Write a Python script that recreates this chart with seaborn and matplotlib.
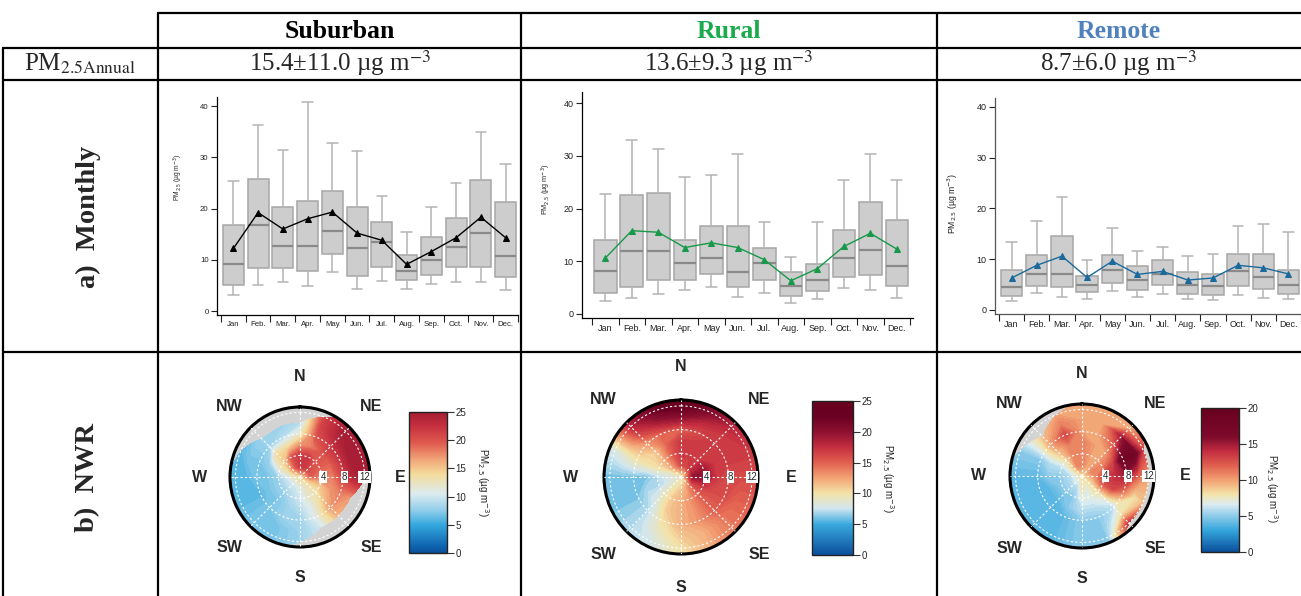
import numpy as np
import pandas as pd
import matplotlib
matplotlib.use("Agg")
import matplotlib.pyplot as plt
import seaborn as sns
from matplotlib.colors import LinearSegmentedColormap, Normalize
from matplotlib.cm import ScalarMappable
from matplotlib.lines import Line2D

# ---------------- data ----------------
months = ["Jan", "Feb.", "Mar.", "Apr.", "May", "Jun.", "Jul.", "Aug.", "Sep.", "Oct.", "Nov.", "Dec."]
sites = ["Suburban", "Rural", "Remote"]
annual_text = ["15.4\u00b111.0 \u00b5g m$^{-3}$", "13.6\u00b19.3 \u00b5g m$^{-3}$", "8.7\u00b16.0 \u00b5g m$^{-3}$"]

sub_low = [3.1, 5.1, 5.7, 4.9, 7.7, 4.2, 5.8, 4.2, 5.2, 5.7, 5.7, 4.1]
sub_q1 = [5.0, 8.4, 8.3, 7.9, 11.1, 6.8, 8.6, 6.0, 7.0, 8.5, 8.6, 6.6]
sub_med = [9.2, 16.8, 12.7, 12.6, 15.6, 12.2, 13.5, 7.9, 10.0, 12.4, 15.3, 10.8]
sub_q3 = [16.8, 25.7, 20.2, 21.5, 23.5, 20.2, 17.4, 11.0, 14.5, 18.2, 25.6, 21.2]
sub_high = [25.4, 36.3, 31.5, 40.7, 32.8, 31.2, 22.5, 15.5, 20.2, 25.0, 34.9, 28.7]
sub_mean = [12.2, 19.2, 16.0, 18.0, 19.3, 15.2, 13.8, 9.1, 11.6, 14.3, 18.3, 14.3]

rur_low = [2.4, 3.0, 3.8, 4.5, 5.2, 3.2, 3.9, 2.1, 2.8, 4.9, 4.5, 3.1]
rur_q1 = [4.0, 5.2, 6.5, 6.5, 7.5, 5.2, 6.5, 3.5, 4.4, 7.0, 7.3, 5.3]
rur_med = [8.1, 11.9, 11.9, 9.7, 10.7, 8.0, 9.7, 5.4, 6.4, 10.7, 12.1, 9.1]
rur_q3 = [14.0, 22.6, 23.0, 14.1, 16.6, 16.6, 12.6, 8.0, 9.5, 16.0, 21.3, 17.8]
rur_high = [22.7, 33.0, 31.2, 26.0, 26.3, 30.3, 17.4, 10.9, 17.4, 25.4, 30.3, 25.4]
rur_mean = [10.6, 15.8, 15.5, 12.6, 13.5, 12.6, 10.3, 6.3, 8.6, 12.8, 15.3, 12.3]

rem_low = [1.7, 3.3, 2.6, 2.2, 3.7, 2.6, 3.1, 2.2, 1.9, 3.0, 2.4, 2.2]
rem_q1 = [2.8, 4.7, 4.6, 3.5, 5.3, 4.0, 4.9, 3.2, 3.0, 4.8, 4.1, 3.1]
rem_med = [4.6, 7.1, 7.1, 5.0, 7.8, 5.9, 7.1, 5.0, 4.7, 7.7, 6.4, 5.0]
rem_q3 = [7.8, 10.8, 14.5, 6.6, 10.8, 8.7, 9.8, 7.4, 7.0, 11.1, 11.1, 7.8]
rem_high = [13.3, 17.6, 22.2, 9.8, 16.1, 11.7, 12.5, 10.6, 11.0, 16.5, 17.0, 15.4]
rem_mean = [6.3, 8.8, 10.6, 6.4, 9.6, 7.0, 7.6, 5.9, 6.3, 8.8, 8.3, 7.1]

# wind-direction x wind-speed grids (rows: N, NNE, ..., NNW ; cols: speed 0,2,...,14)
wind_dirs = [0, 22.5, 45, 67.5, 90, 112.5, 135, 157.5, 180, 202.5, 225, 247.5, 270, 292.5, 315, 337.5]
wind_speeds = [0, 2, 4, 6, 8, 10, 12, 14]
nan = np.nan
sub_nwr = [
    [14, 22, 22, 17, 12, 9, nan, nan],
    [14, 22, 22, 18, 20, 21, 21, nan],
    [14, 21, 20, 20, 22, 24, 25, 25],
    [14, 20, 19, 19, 22, 25, 25, 25],
    [14, 19, 18, 18, 21, 24, 25, 25],
    [14, 15, 15, 17, 18, 17, nan, nan],
    [14, 13, 13, 15, 17, 16, nan, nan],
    [14, 12, 12, 11, 11, 10, nan, nan],
    [14, 11, 10, 9, 8, 8, 8, nan],
    [14, 10, 9, 8, 8, 7, 7, 7],
    [14, 10, 8, 7, 7, 7, 7, 7],
    [14, 10, 8, 7, 6, 6, 6, 6],
    [14, 11, 8, 7, 7, 6, 6, 6],
    [14, 13, 12, 8, 7, 7, 6, nan],
    [14, 17, 15, 14, 8, 8, nan, nan],
    [14, 20, 20, 14, 9, 8, nan, nan],
]
rur_nwr = [
    [9, 16, 17, 17, 15, 20, 23, 24],
    [9, 16, 17, 17, 16, 18, 21, 22],
    [9, 17, 17, 17, 17, 17, 18, 18],
    [9, 18, 19, 17, 17, 17, 17, 17],
    [9, 20, 20, 17, 16, 16, 16, 16],
    [9, 17, 17, 16, 16, 15, 15, 15],
    [9, 14, 15, 15, 15, 14, 14, 14],
    [9, 12, 13, 13, 13, 12, 12, 12],
    [9, 11, 12, 12, 12, 11, 10, 10],
    [9, 10, 11, 11, 10, 9, 8, 8],
    [9, 9, 9, 8, 7, 7, 7, 7],
    [9, 8, 7, 7, 6, 6, 6, 6],
    [9, 8, 7, 6, 6, 6, 6, 6],
    [9, 9, 10, 10, 10, 9, 8, 8],
    [9, 12, 12, 11, 13, 16, 18, 18],
    [9, 14, 15, 15, 15, 19, 22, 23],
]
rem_nwr = [
    [8, 11, 11, 11, 10, 10, 10, 10],
    [8, 10, 10, 10, 10, 10, 10, 10],
    [8, 10, 10, 10, 12, 15, 10, 10],
    [8, 11, 11, 13, 18, 18, 13, nan],
    [8, 10, 13, 14, 15, 12, 10, nan],
    [8, 9, 12, 13, 11, 8, 9, nan],
    [8, 8, 8, 7, 6, 8, 14, nan],
    [8, 7, 7, 6, 5, 5, 5, 5],
    [8, 8, 7, 6, 5, 5, 5, 5],
    [8, 6, 5, 5, 4, 4, 4, 4],
    [8, 6, 5, 4, 4, 4, 4, 4],
    [8, 6, 5, 4, 4, 4, 4, 4],
    [8, 6, 5, 5, 4, 4, 4, 4],
    [8, 7, 6, 6, 5, 5, 5, nan],
    [8, 9, 8, 9, 10, 9, nan, nan],
    [8, 11, 11, 11, 13, 11, 10, nan],
]
compass = ["N", "NE", "E", "SE", "S", "SW", "W", "NW"]
compass_deg = [0, 45, 90, 135, 180, 225, 270, 315]
ring_vals = [4, 8, 12]

# ---------------- styling ----------------
W, H = 1301, 596
sns.set_theme(style="white")
plt.rcParams['font.family'] = ['Liberation Sans', 'DejaVu Sans']
SERIF = ['Liberation Serif', 'DejaVu Serif']

fig = plt.figure(figsize=(W / 100, H / 100), dpi=100)
fig.patch.set_facecolor('white')


def rect(x0, y0, x1, y1):
    return [x0 / W, 1 - y1 / H, (x1 - x0) / W, (y1 - y0) / H]


def hline(y, x0, x1, lw=1.6):
    fig.add_artist(Line2D([x0 / W, x1 / W], [1 - y / H, 1 - y / H], transform=fig.transFigure, color='black', lw=lw))


def vline(x, y0, y1, lw=1.6):
    fig.add_artist(Line2D([x / W, x / W], [1 - y0 / H, 1 - y1 / H], transform=fig.transFigure, color='black', lw=lw))


# table
hline(13, 158, 1301)
hline(48, 3, 1301)
hline(80, 3, 1301)
hline(352, 3, 1301)
for xv in [158, 521, 937]:
    vline(xv, 13, 596)
vline(3, 48, 596)

head_x = [340, 729, 1119]
head_col = ['black', '#1aab4d', '#4f81bd']
for name, hx, hc, at in zip(sites, head_x, head_col, annual_text):
    fig.text(hx / W, 1 - 31 / H, name, ha='center', va='center', fontsize=18.5, fontweight='bold',
             family=SERIF, color=hc)
    fig.text(hx / W, 1 - 63 / H, at, ha='center', va='center', fontsize=18, family=SERIF, math_fontfamily='stix')
fig.text(80 / W, 1 - 64 / H, "PM$_{\\mathrm{2.5Annual}}$", ha='center', va='center', fontsize=18,
         family=SERIF, math_fontfamily='stix')
fig.text(88 / W, 1 - 217 / H, "a)  Monthly", rotation=90, ha='center', va='center', fontsize=20.5,
         fontweight='bold', family=SERIF)
fig.text(88 / W, 1 - 478 / H, "b)  NWR", rotation=90, ha='center', va='center', fontsize=20.5,
         fontweight='bold', family=SERIF)

# ---------------- box plots ----------------
box_sets = [
    (sub_low, sub_q1, sub_med, sub_q3, sub_high, sub_mean, 'black',
     (217, 97, 518, 315), (-0.66, 11.5), (-0.78, 41.76), 5.6, 4.8, (-0.106, 0.63), 'black'),
    (rur_low, rur_q1, rur_med, rur_q3, rur_high, rur_mean, '#17994a',
     (582, 92, 913, 318), (-0.877, 11.61), (-0.76, 42.1), 6.5, 5.2, (-0.088, 0.57), 'black'),
    (rem_low, rem_q1, rem_med, rem_q3, rem_high, rem_mean, '#1b6a9c',
     (995, 97.7, 1301, 314), (-0.66, 11.46), (-0.79, 41.8), 6.5, 6.2, (-0.114, 0.51), '#555555'),
]
for (lo, q1, md, q3, hi, mn, lc, r, xl, yl, tfs, lfs, lxy, spc) in box_sets:
    ax = fig.add_axes(rect(*r))
    ax.patch.set_alpha(0)
    df = pd.DataFrame({"month": np.repeat(months, 5),
                       "pm": np.column_stack([lo, q1, md, q3, hi]).ravel()})
    sns.boxplot(data=df, x="month", y="pm", order=months, whis=(0, 100), width=0.85,
                color='#cdcdcd', saturation=1, linecolor='#a6a6a6', linewidth=1.1,
                medianprops=dict(color='#8a8a8a', linewidth=1.6),
                whiskerprops=dict(color='#b4b4b4', linewidth=1.1),
                capprops=dict(color='#b4b4b4', linewidth=1.1),
                showfliers=False, ax=ax)
    sns.pointplot(x=months, y=mn, order=months, color=lc, markers="^", linestyles="-",
                  linewidth=1.0, markersize=5, errorbar=None, zorder=5, ax=ax)
    ax.set_xlim(*xl)
    ax.set_ylim(*yl)
    ax.set_xticks(range(12))
    ax.set_xticklabels(months)
    ax.set_xticks(np.arange(-0.5, 12, 1), minor=True)
    ax.set_yticks([0, 10, 20, 30, 40])
    ax.tick_params(axis='x', which='major', length=0, pad=4, labelsize=tfs, colors='#222222', bottom=True)
    ax.tick_params(axis='x', which='minor', length=5, width=0.8, direction='out', color='#222222', bottom=True)
    ax.tick_params(axis='y', length=4, width=0.8, direction='out', labelsize=tfs, colors='#222222', left=True, pad=2)
    for s in ['top', 'right']:
        ax.spines[s].set_visible(False)
    for s in ['left', 'bottom']:
        ax.spines[s].set_color(spc)
        ax.spines[s].set_linewidth(0.9)
    ax.set_xlabel("")
    ax.set_ylabel("PM$_{2.5}$ (\u00b5g m$^{-3}$)", fontsize=lfs, color='#222222', math_fontfamily='dejavusans')
    ax.yaxis.set_label_coords(*lxy)

# ---------------- polar NWR plots ----------------
cmap_sub = LinearSegmentedColormap.from_list("sub", [
    (0, '#0a4f9c'), (0.05, '#1065b0'), (0.2, '#35a9df'), (0.3, '#8fcdea'), (0.42, '#dcebef'),
    (0.56, '#f4dc9c'), (0.66, '#f2a779'), (0.78, '#e05a4f'), (0.9, '#c5303f'), (1.0, '#a51d33')])
cmap_rur = LinearSegmentedColormap.from_list("rur", [
    (0, '#0a4f9c'), (0.2, '#3aa9de'), (0.3, '#d0e6ef'), (0.4, '#f4e3a8'), (0.5, '#f3a375'),
    (0.6, '#e2604f'), (0.7, '#c52e40'), (0.8, '#8e1030'), (0.9, '#6a0022'), (1.0, '#67001f')])
cmap_rem = LinearSegmentedColormap.from_list("rem", [
    (0, '#0a4f9c'), (0.15, '#35a6dc'), (0.27, '#9fd3ec'), (0.33, '#dbecf1'), (0.4, '#f3e4aa'),
    (0.5, '#f2a072'), (0.6, '#e0604f'), (0.7, '#c32d40'), (0.8, '#7e0a2c'), (1.0, '#67001f')])

polar_sets = [
    (sub_nwr, cmap_sub, 25, (300, 477, 70), (409, 412, 447, 553), [0, 5, 10, 15, 20, 25], (483, 482)),
    (rur_nwr, cmap_rur, 25, (681, 477, 77), (812, 401, 853, 555), [0, 5, 10, 15, 20, 25], (888, 478)),
    (rem_nwr, cmap_rem, 20, (1082, 476, 72), (1201, 408, 1239, 552), [0, 5, 10, 15, 20], (1272, 488)),
]
RMAX = 13
for grid, cmap, vmax, (cx, cy, rr), cb_r, cb_t, (lx, ly) in polar_sets:
    ax = fig.add_axes(rect(cx - rr, cy - rr, cx + rr, cy + rr), projection='polar')
    ax.set_facecolor('#d3d3d3')
    ax.set_theta_zero_location('N')
    ax.set_theta_direction(-1)
    Z = np.array(grid, dtype=float)
    Z = np.vstack([Z, Z[:1]])
    th = np.deg2rad(np.append(wind_dirs, 360))
    TH, RR = np.meshgrid(th, wind_speeds, indexing='ij')
    norm = Normalize(0, vmax)
    ax.contourf(TH, RR, np.ma.masked_invalid(Z), levels=np.linspace(0, vmax, 61), cmap=cmap,
                norm=norm, zorder=1, antialiased=False)
    ax.set_ylim(0, RMAX)
    ax.set_yticks(ring_vals)
    ax.set_yticklabels([])
    ax.set_xticks(np.deg2rad(compass_deg))
    ax.set_xticklabels([])
    ax.tick_params(length=0)
    ax.grid(True, color='white', linestyle=(0, (2, 2)), linewidth=0.8)
    ax.set_axisbelow(False)
    ax.spines['polar'].set_linewidth(2.2)
    ax.spines['polar'].set_color('black')
    for rv in ring_vals:
        ax.text(np.deg2rad(90), rv + (0.3 if rv < 12 else 0), str(rv), ha='center', va='center', fontsize=7,
                zorder=6, bbox=dict(boxstyle='square,pad=0.1', fc='white', ec='none'))
    for lab, d in zip(compass, compass_deg):
        ax.text(np.deg2rad(d), RMAX * 1.43, lab, ha='center', va='center', fontsize=11.5,
                fontweight='bold', clip_on=False)
    cax = fig.add_axes(rect(*cb_r))
    cb = fig.colorbar(ScalarMappable(norm=norm, cmap=cmap), cax=cax, ticks=cb_t)
    cb.outline.set_linewidth(1.0)
    cb.outline.set_edgecolor('#222222')
    cax.yaxis.set_ticks_position('right')
    cax.tick_params(labelsize=7, length=5, width=0.8, color='#333333', direction='out', right=True, pad=1)
    fig.text(lx / W, 1 - ly / H, "PM$_{2.5}$ (\u00b5g m$^{-3}$)", rotation=270, ha='center', va='center',
             fontsize=7, math_fontfamily='dejavusans', color='#222222')

fig.savefig("out.png", dpi=100)
